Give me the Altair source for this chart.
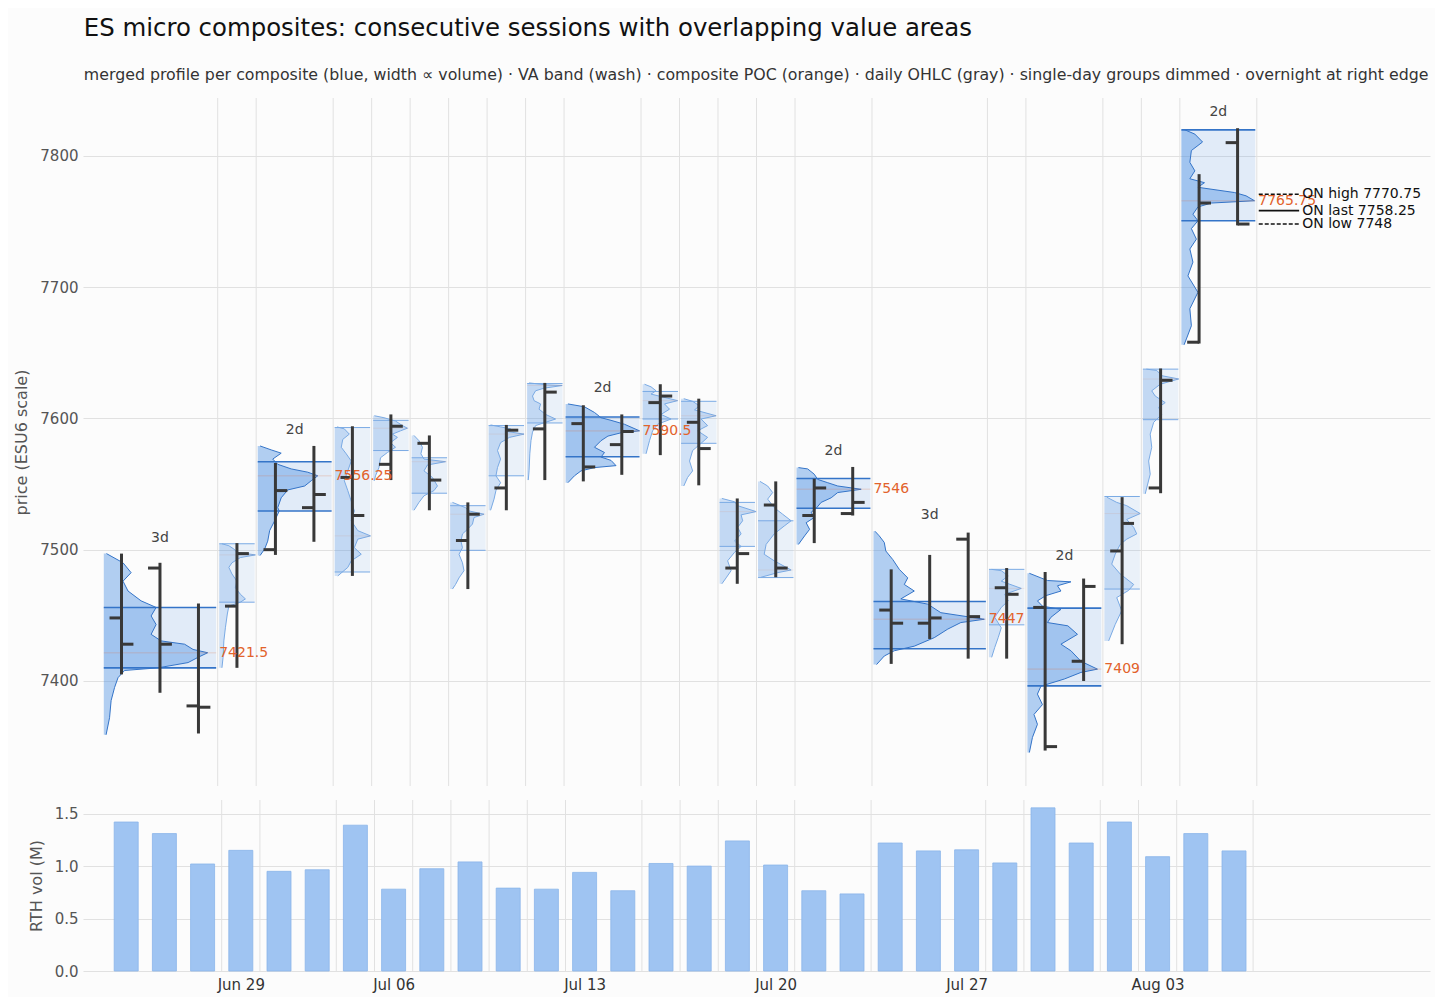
import altair as alt
import pandas as pd

TITLE = "ES micro composites: consecutive sessions with overlapping value areas"
SUBTITLE = ("merged profile per composite (blue, width \u221d volume) \u00b7 VA band (wash) \u00b7 "
            "composite POC (orange) \u00b7 daily OHLC (gray) \u00b7 single-day groups dimmed \u00b7 "
            "overnight at right edge")

## x axis: trading-day index, labelled on Mondays
TICK_IDX = [3, 7, 12, 17, 22, 27]
TICK_TXT = ["Jun 29", "Jul 06", "Jul 13", "Jul 20", "Jul 27", "Aug 03"]

## daily OHLC + RTH volume (M), one entry per session
OPEN = [7448, 7486, 7381, 7457, 7500, 7532, 7555, 7565, 7581, 7507,
        7547, 7592, 7596, 7580, 7612, 7597, 7486, 7534, 7526, 7527.5,
        7454, 7444, 7508, 7471, 7456, 7415, 7499, 7547, 7658, 7810]
HIGH = [7497, 7490, 7459, 7505, 7566, 7579, 7594, 7603, 7587, 7536,
        7595, 7627, 7610, 7603, 7626, 7615, 7539, 7552, 7554, 7563,
        7485, 7496, 7513, 7486, 7483, 7478, 7540, 7638, 7786, 7821]
LOW = [7405, 7391, 7360, 7410, 7496, 7506, 7480, 7553, 7530, 7470,
       7530, 7553, 7552, 7557, 7572, 7549, 7474, 7479, 7505, 7526,
       7413, 7432, 7417, 7417, 7347, 7400, 7428, 7543, 7657, 7747]
CLOSE = [7428, 7428, 7380, 7497, 7545, 7542, 7526, 7594, 7553, 7527,
         7591, 7620, 7563, 7590, 7617, 7577, 7497, 7486, 7547, 7536,
         7444, 7448, 7449, 7466, 7350, 7472, 7520, 7629, 7764, 7748]
RTH_VOL = [1.42, 1.31, 1.02, 1.15, 0.95, 0.965, 1.39, 0.78, 0.975, 1.04,
           0.79, 0.78, 0.94, 0.765, 1.025, 1.0, 1.24, 1.01, 0.765, 0.735,
           1.22, 1.145, 1.155, 1.03, 1.555, 1.22, 1.42, 1.09, 1.31, 1.145]

## groups (composites and single days)
GROUP_FIRST = [0, 3, 4, 6, 7, 8, 9, 10, 11, 12, 14, 15, 16, 17, 18, 20, 23, 24, 26, 27, 28]
GROUP_LAST = [2, 3, 5, 6, 7, 8, 9, 10, 11, 13, 14, 15, 16, 17, 19, 22, 23, 25, 26, 27, 29]
VAH = [7456, 7504.5, 7567, 7593, 7598.5, 7570, 7533.5, 7594.5, 7626.5, 7601, 7620.5,
       7613, 7536, 7522, 7554.25, 7460.5, 7485, 7455.5, 7540.5, 7637.5, 7819.75]
VAL = [7410, 7460, 7529.5, 7483, 7575.5, 7543, 7499.5, 7556.25, 7596.5, 7570.75, 7599.5,
       7581, 7502.5, 7478.75, 7531.5, 7424.5, 7442.75, 7396.25, 7470, 7599, 7750.5]
POC = [7421.5, 7496, 7556.25, 7510.5, 7592.5, 7567, 7527, 7588, 7625, 7590.5, 7613.5,
       7602, 7529, 7484.5, 7546, 7447, 7470.5, 7409, 7527.5, 7630, 7765.75]

## merged volume profile per group: price levels and volume (in day-width units)
PROFILE_PRICE = [
    [7497, 7490, 7482.5, 7476, 7468.5, 7461, 7456, 7449.5, 7443, 7435.5, 7430.5, 7428, 7424,
     7421.5, 7418, 7414, 7410, 7408, 7402.5, 7395, 7385, 7372, 7359],
    [7504.5, 7503, 7500.5, 7498, 7496, 7494, 7490, 7486.5, 7481.5, 7476, 7471, 7466, 7462.5,
     7460, 7457, 7451, 7440.5, 7430.5, 7418, 7410],
    [7579, 7576, 7573.5, 7569, 7565, 7561.5, 7559, 7556.25, 7552.5, 7548.5, 7545.5, 7539.5,
     7532, 7529.5, 7522, 7514.5, 7506.5, 7500.5, 7495.5],
    [7593.5, 7592, 7588, 7584, 7578, 7573, 7567.5, 7560, 7552.5, 7545, 7537, 7529.5, 7522,
     7514.5, 7510.5, 7508, 7501.5, 7496.5, 7491.5, 7486.5, 7480],
    [7602, 7600.5, 7598, 7594.5, 7592.5, 7590.5, 7588, 7585.5, 7581.5, 7578, 7574, 7570,
     7562.5, 7556.25, 7552.5],
    [7587, 7583, 7578, 7573, 7569, 7567, 7564.5, 7560, 7555, 7548.5, 7545, 7541, 7536, 7530],
    [7536, 7534, 7532, 7529.5, 7527, 7524.5, 7519.5, 7515.5, 7512, 7506.5, 7501.5, 7496.5,
     7490, 7484, 7478.5, 7473.5, 7470],
    [7595, 7593.5, 7592, 7590, 7588, 7585.5, 7581.5, 7575.5, 7569, 7562.5, 7556.25, 7551,
     7545, 7538.5, 7530],
    [7627, 7625.5, 7625, 7623, 7621, 7617, 7613.5, 7611, 7607, 7603, 7599.5, 7597, 7594.5,
     7589.5, 7583, 7573, 7560, 7553],
    [7611, 7608.8, 7604.5, 7600.5, 7598.5, 7595.5, 7590.5, 7589, 7586.5, 7583, 7578, 7574,
     7570.5, 7568, 7564, 7562.5, 7560, 7556.25, 7551],
    [7626, 7624, 7621, 7618.5, 7613.5, 7611, 7607, 7603, 7599.5, 7595.5, 7590.5, 7583, 7573],
    [7615, 7613, 7609.5, 7606.5, 7602, 7599.5, 7594.5, 7590.5, 7585.5, 7581, 7575.5, 7567.5,
     7560, 7555, 7548.5],
    [7539, 7536.5, 7533.5, 7529, 7526.5, 7522, 7517, 7512, 7506.5, 7502.5, 7498, 7491.5,
     7484, 7478.5, 7474],
    [7552, 7548.5, 7543.5, 7538.5, 7532, 7527, 7522, 7518, 7512, 7504, 7496.5, 7491.5,
     7484.5, 7482.5, 7479],
    [7562.5, 7561.5, 7557.5, 7553.5, 7551, 7548.5, 7546, 7543.5, 7539.5, 7536, 7531.5,
     7528.5, 7524.5, 7520.5, 7515.5, 7510.5, 7504],
    [7514, 7510.5, 7505.5, 7499, 7492.5, 7485, 7478.5, 7473.5, 7468.5, 7462.5, 7458.5, 7452,
     7447, 7444.5, 7439.5, 7433, 7426.5, 7423, 7419, 7412.5],
    [7485, 7484, 7480, 7476, 7470.5, 7466, 7461, 7456, 7448.5, 7440.5, 7433, 7425.5, 7418],
    [7482, 7478.5, 7476.5, 7475.5, 7472.5, 7468.5, 7465, 7461, 7457, 7454.5, 7448.5, 7444.5,
     7442, 7435.5, 7428, 7423, 7415, 7409, 7406.5, 7401.5, 7396, 7390, 7382, 7374.5, 7367,
     7357, 7345.5],
    [7540, 7536, 7533.5, 7527.5, 7523, 7517, 7512, 7508, 7504, 7496.5, 7489, 7481.5, 7473.5,
     7469, 7463.5, 7453.5, 7443, 7430.5],
    [7637.5, 7636.5, 7632.5, 7630, 7626, 7621, 7617, 7612, 7608.5, 7603, 7597, 7588, 7578,
     7567.5, 7557.5, 7542.5],
    [7820, 7816.5, 7810.5, 7804, 7795, 7788.5, 7782.5, 7779.5, 7776, 7772, 7769.5, 7765.75,
     7764, 7761, 7755.5, 7750.5, 7744.5, 7736.5, 7729, 7719, 7708.5, 7696, 7683.5, 7670.5,
     7660.5, 7656],
]
PROFILE_VOL = [
    [0.07, 0.5, 0.71, 0.5, 0.63, 0.97, 1.36, 1.23, 1.36, 1.23, 1.49, 2.1, 2.32, 2.7, 2.45,
     2.19, 1.41, 0.54, 0.37, 0.28, 0.19, 0.15, 0.06],
    [0.07, 0.25, 0.38, 0.46, 0.94, 0.55, 0.33, 0.25, 0.33, 0.46, 0.42, 0.55, 0.68, 0.55,
     0.25, 0.21, 0.16, 0.12, 0.1, 0.07],
    [0.06, 0.35, 0.61, 0.39, 0.52, 0.87, 1.30, 1.56, 1.39, 1.22, 0.78, 0.61, 0.52, 0.56,
     0.44, 0.31, 0.26, 0.18, 0.06],
    [0.06, 0.25, 0.38, 0.21, 0.17, 0.3, 0.43, 0.34, 0.25, 0.34, 0.43, 0.51, 0.43, 0.6, 0.93,
     0.6, 0.51, 0.69, 0.43, 0.34, 0.08],
    [0.03, 0.28, 0.58, 0.76, 0.89, 0.71, 0.5, 0.63, 0.45, 0.58, 0.37, 0.19, 0.15, 0.06, 0.03],
    [0.06, 0.19, 0.28, 0.24, 0.32, 0.88, 0.41, 0.32, 0.54, 0.67, 0.58, 0.32, 0.19, 0.06],
    [0.06, 0.23, 0.4, 0.49, 0.88, 0.62, 0.58, 0.45, 0.32, 0.28, 0.32, 0.23, 0.32, 0.36, 0.23,
     0.14, 0.06],
    [0.05, 0.31, 0.57, 0.48, 0.92, 0.54, 0.31, 0.23, 0.31, 0.23, 0.19, 0.31, 0.19, 0.14, 0.05],
    [0.05, 0.52, 0.91, 0.44, 0.22, 0.14, 0.18, 0.35, 0.31, 0.48, 0.74, 0.48, 0.22, 0.14, 0.1,
     0.07, 0.05, 0.03],
    [0.06, 0.49, 0.75, 0.92, 1.18, 1.53, 1.92, 1.44, 1.1, 0.92, 0.75, 1.01, 0.92, 1.18, 1.31,
     0.75, 0.4, 0.23, 0.06],
    [0.05, 0.22, 0.35, 0.22, 0.91, 0.57, 0.7, 0.48, 0.74, 0.39, 0.26, 0.18, 0.09],
    [0.07, 0.3, 0.48, 0.35, 0.91, 0.52, 0.69, 0.43, 0.69, 0.52, 0.3, 0.22, 0.3, 0.17, 0.07],
    [0.06, 0.39, 0.47, 0.95, 0.56, 0.6, 0.47, 0.56, 0.39, 0.56, 0.39, 0.21, 0.3, 0.17, 0.06],
    [0.05, 0.25, 0.38, 0.25, 0.42, 0.64, 0.86, 0.68, 0.42, 0.21, 0.16, 0.42, 0.86, 0.51, 0.08],
    [0.05, 0.29, 0.46, 0.55, 0.81, 1.07, 1.68, 1.07, 0.9, 0.64, 0.51, 0.38, 0.46, 0.25, 0.34,
     0.21, 0.05],
    [0.04, 0.15, 0.28, 0.32, 0.5, 0.67, 0.89, 0.8, 1.06, 0.71, 1.41, 1.75, 2.88, 2.27, 1.93,
     1.58, 1.06, 0.54, 0.28, 0.08],
    [0.07, 0.32, 0.5, 0.32, 0.84, 0.41, 0.5, 0.32, 0.15, 0.32, 0.24, 0.15, 0.07],
    [0.05, 0.35, 0.52, 1.13, 0.78, 0.87, 0.48, 0.26, 0.39, 0.87, 0.61, 0.52, 1.05, 1.3, 0.87,
     1.13, 1.39, 1.82, 1.39, 0.96, 0.35, 0.26, 0.39, 0.17, 0.26, 0.13, 0.05],
    [0.06, 0.32, 0.58, 0.93, 0.58, 0.76, 0.84, 0.58, 0.41, 0.28, 0.19, 0.41, 0.76, 0.63, 0.32,
     0.45, 0.28, 0.11],
    [0.09, 0.36, 0.49, 0.93, 0.45, 0.23, 0.32, 0.58, 0.41, 0.49, 0.28, 0.19, 0.23, 0.15, 0.19,
     0.06],
    [0.07, 0.35, 0.55, 0.26, 0.22, 0.35, 0.22, 0.6, 0.43, 1.38, 1.68, 1.9, 0.78, 0.43, 0.3,
     0.43, 0.26, 0.39, 0.22, 0.3, 0.17, 0.43, 0.22, 0.26, 0.13, 0.07],
]

## overnight session
ON_NAME = ["ON high", "ON last", "ON low"]
ON_PRICE = [7770.75, 7758.25, 7748]
ON_STYLE = ["dash", "solid", "dash"]

BLUE = "#4a90e2"
ORANGE = "#e2622b"
OHLC_GRAY = "#383838"
GRID = "#e1e1e1"


##--build tables
days = pd.DataFrame({"i": range(len(OPEN)), "open": OPEN, "high": HIGH, "low": LOW,
                     "close": CLOSE, "vol": RTH_VOL})

groups = pd.DataFrame({"g": range(len(GROUP_FIRST)), "first": GROUP_FIRST, "last": GROUP_LAST,
                       "vah": VAH, "val": VAL, "poc": POC})
groups["ndays"] = groups["last"] - groups["first"] + 1
groups["kind"] = ["comp" if n > 1 else "single" for n in groups["ndays"]]
groups["label"] = groups["ndays"].astype(str) + "d"
groups["left"] = groups["first"] - 0.5 + 0.04
groups["right"] = groups["last"] + 0.5 - 0.04
groups["edge"] = groups["last"] + 0.5
groups["mid"] = (groups["first"] + groups["last"]) / 2
groups["top"] = [max(max(HIGH[a:b + 1]), max(p)) for a, b, p in
                 zip(GROUP_FIRST, GROUP_LAST, PROFILE_PRICE)]
groups["poc_txt"] = [f"{v:g}" for v in POC]

rows = []
for g, (prices, vols) in enumerate(zip(PROFILE_PRICE, PROFILE_VOL)):
    x0 = GROUP_FIRST[g] - 0.5 + 0.04
    kind = groups.loc[g, "kind"]
    for p, v in zip(prices, vols):
        rows.append({"g": g, "price": p, "xl": x0, "xr": x0 + v, "kind": kind})
prof = pd.DataFrame(rows)

overnight = pd.DataFrame({"name": ON_NAME, "price": ON_PRICE, "style": ON_STYLE})
overnight["txt"] = [f"{n} {v:g}" for n, v in zip(ON_NAME, ON_PRICE)]


##--scales / axes
X_SCALE = alt.Scale(domain=[-1, 34], nice=False, zero=False)
Y_SCALE = alt.Scale(domain=[7320, 7844], nice=False, zero=False)
V_SCALE = alt.Scale(domain=[0, 1.63], nice=False)
KIND = ["comp", "single"]

y_axis = alt.Axis(values=[7400, 7500, 7600, 7700, 7800], format="d", grid=True,
                  gridColor=GRID, domain=False, ticks=False, labelFontSize=15,
                  labelColor="#555", labelPadding=5, titleFontSize=16, titleColor="#555",
                  titleFontWeight="normal", titlePadding=10)
v_axis = alt.Axis(values=[0, 0.5, 1, 1.5], format=".1f", grid=True, gridColor=GRID,
                  domain=False, ticks=False, labelFontSize=15, labelColor="#555",
                  labelPadding=5, titleFontSize=16, titleColor="#555",
                  titleFontWeight="normal", titlePadding=10)
label_expr = " : ".join(f"datum.value == {i} ? '{t}'" for i, t in zip(TICK_IDX, TICK_TXT)) + " : ''"
x_axis = alt.Axis(values=TICK_IDX, labelExpr=label_expr, grid=False, ticks=False, domain=False,
                  labelFontSize=15, labelColor="#333", labelPadding=6, title=None)


def xq(field):
    return alt.X(field, type="quantitative", scale=X_SCALE, axis=None, title=None, stack=None)


##--price panel
bounds = alt.Chart(groups).mark_rule(color=GRID, strokeWidth=1).encode(x=xq("edge"))

band = alt.Chart(groups).mark_rect(color=BLUE).encode(
    x=xq("left"), x2="right",
    y=alt.Y("val:Q", scale=Y_SCALE, axis=y_axis, title="price (ESU6 scale)"), y2="vah",
    opacity=alt.Opacity("kind:N", scale=alt.Scale(domain=KIND, range=[0.15, 0.1]), legend=None))

# one area per group: filled from the group's left edge out to the volume profile
area_comp = alt.Chart(prof).transform_filter("datum.kind == 'comp'").mark_area(
    orient="horizontal", color=BLUE, opacity=0.42).encode(
    y=alt.Y("price:Q", stack=None), x=xq("xl"), x2="xr", detail="g:N")
area_single = alt.Chart(prof).transform_filter("datum.kind == 'single'").mark_area(
    orient="horizontal", color=BLUE, opacity=0.25).encode(
    y=alt.Y("price:Q", stack=None), x=xq("xl"), x2="xr", detail="g:N")

outline = alt.Chart(prof).mark_line(strokeWidth=1).encode(
    x=xq("xr"), y="price:Q", detail="g:N", order="price:Q",
    color=alt.Color("kind:N", scale=alt.Scale(domain=KIND, range=["#3474c8", "#7aaae4"]),
                    legend=None))

va_lines = alt.Chart(groups).transform_fold(["vah", "val"], as_=["side", "lvl"]).mark_rule().encode(
    x=xq("left"), x2="right", y="lvl:Q",
    color=alt.Color("kind:N", scale=alt.Scale(domain=KIND, range=["#1f5fb0", "#8fb4e4"]),
                    legend=None),
    strokeWidth=alt.StrokeWidth("kind:N", scale=alt.Scale(domain=KIND, range=[1.6, 1.0]),
                                legend=None))

poc_lines = alt.Chart(groups).mark_rule(color=ORANGE).encode(
    x=xq("left"), x2="right", y="poc:Q",
    strokeWidth=alt.StrokeWidth("kind:N", scale=alt.Scale(domain=KIND, range=[4, 1.6]),
                                legend=None),
    opacity=alt.Opacity("kind:N", scale=alt.Scale(domain=KIND, range=[1, 0.8]), legend=None))

hl = alt.Chart(days).mark_rule(color=OHLC_GRAY, strokeWidth=3).encode(
    x=xq("i"), y="low:Q", y2="high")
opens = alt.Chart(days).transform_calculate(ol="datum.i - 0.31").mark_rule(
    color=OHLC_GRAY, strokeWidth=3).encode(x=xq("ol"), x2="i", y="open:Q")
closes = alt.Chart(days).transform_calculate(cr="datum.i + 0.31").mark_rule(
    color=OHLC_GRAY, strokeWidth=3).encode(x=xq("i"), x2="cr", y="close:Q")

comp_lbl = alt.Chart(groups).transform_filter("datum.kind == 'comp'").mark_text(
    fontSize=14, color="#444", dy=-16, baseline="middle").encode(
    x=xq("mid"), y="top:Q", text="label:N")
poc_lbl = alt.Chart(groups).transform_filter("datum.kind == 'comp'").mark_text(
    fontSize=14, color=ORANGE, dx=3, align="left", baseline="middle").encode(
    x=xq("right"), y="poc:Q", text="poc_txt:N")

on_lines = alt.Chart(overnight).mark_rule(color="#111", strokeWidth=1.6).encode(
    x=alt.datum(29.55, type="quantitative", scale=X_SCALE, axis=None), x2=alt.datum(30.6),
    y="price:Q",
    strokeDash=alt.StrokeDash("style:N", scale=alt.Scale(domain=["dash", "solid"],
                                                         range=[[4, 2], [1, 0]]), legend=None))
on_txt = alt.Chart(overnight).mark_text(fontSize=14, color="#111", align="left",
                                        baseline="middle").encode(
    x=alt.datum(30.68, type="quantitative", scale=X_SCALE, axis=None), y="price:Q",
    text="txt:N")

price_panel = alt.layer(bounds, band, area_comp, area_single, outline, va_lines, poc_lines,
                        hl, opens, closes, comp_lbl, poc_lbl, on_lines,
                        on_txt).properties(width=1347, height=688)

##--volume panel
vol_bounds = alt.Chart(groups).mark_rule(color=GRID, strokeWidth=1).encode(
    x=alt.X("edge:Q", scale=X_SCALE, axis=x_axis))
bars = alt.Chart(days).mark_bar(color="#9fc4f2", stroke="#8ab5ea", strokeWidth=0.8,
                                size=24).encode(
    x=alt.X("i:Q", scale=X_SCALE, axis=x_axis),
    y=alt.Y("vol:Q", scale=V_SCALE, axis=v_axis, title="RTH vol (M)"))
vol_panel = alt.layer(vol_bounds, bars).properties(width=1347, height=171)

chart = alt.vconcat(price_panel, vol_panel, spacing=12).properties(
    title=alt.TitleParams(TITLE, subtitle=SUBTITLE, anchor="start", fontSize=24.4,
                          fontWeight="normal", color="#111", subtitleFontSize=15.8,
                          subtitleColor="#333", subtitlePadding=26, offset=14, dx=70),
    padding={"left": 5, "top": 8, "right": 5, "bottom": 5}
).configure(background="#fcfcfc", font="DejaVu Sans").configure_view(stroke=None)

chart.save("out.html", embed_options={"renderer": "svg", "actions": False})
